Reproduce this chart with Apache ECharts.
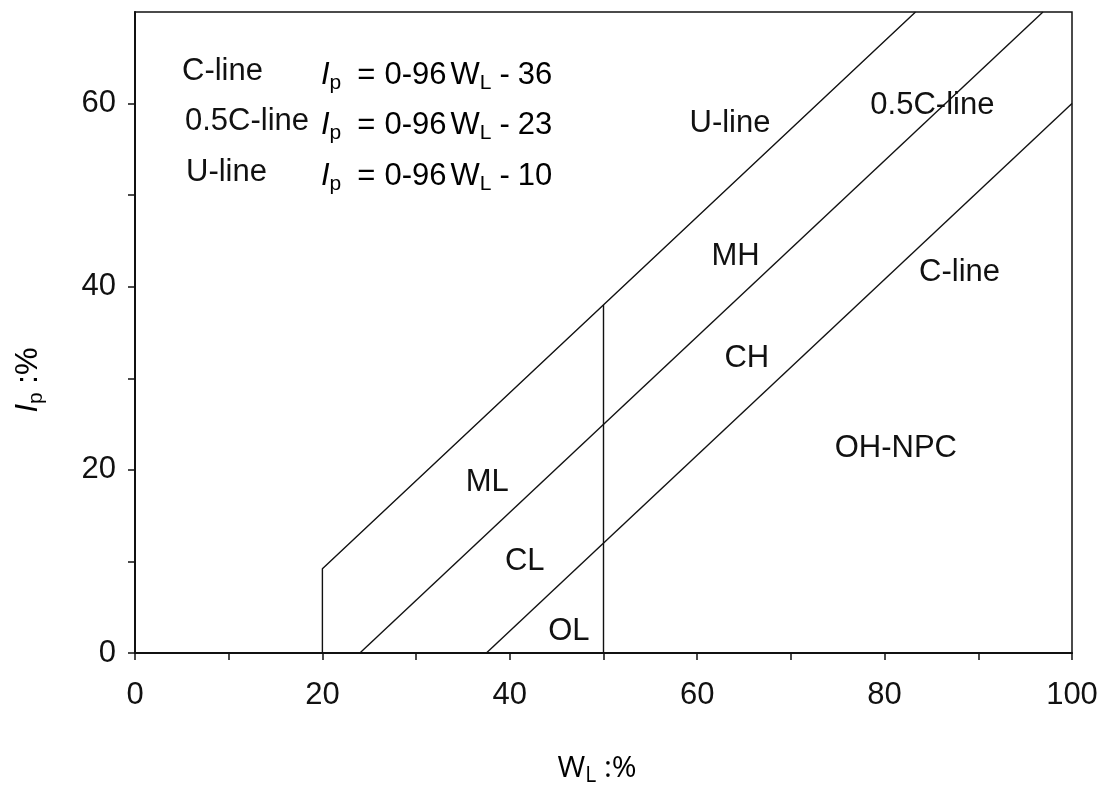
<!DOCTYPE html>
<html>
<head>
<meta charset="utf-8">
<title>Plasticity chart</title>
<script src="https://cdn.jsdelivr.net/npm/echarts@6/dist/echarts.min.js"></script>
<style>
  html, body { margin: 0; padding: 0; background: #fff; }
  #chart { width: 1105px; height: 792px; }
</style>
</head>
<body>
<div id="chart"></div>
<script>
// Boundary lines of the plasticity chart: [W_L %, I_p %]
const uLine = [[20, 0], [20, 9.2], [83.3, 70]];
const halfCLine = [[24, 0], [96.9, 70]];
const cLine = [[37.5, 0], [100, 60]];
const divider = [[50, 0], [50, 38]];

// Tick values
const xTicks = [0, 10, 20, 30, 40, 50, 60, 70, 80, 90, 100];
const xTickLabels = [0, 20, 40, 60, 80, 100];
const yTicks = [0, 10, 20, 30, 40, 50, 60];
const yTickLabels = [0, 20, 40, 60];

// Zone and line names, with the [W_L, I_p] point each is centred on
const zoneNames = ['U-line', '0.5C-line', 'MH', 'C-line', 'CH', 'OH-NPC', 'ML', 'CL', 'OL'];
const zoneAt = [[63.5, 57.8], [85.1, 59.8], [64.1, 43.3], [88.0, 41.6], [65.3, 32.2],
                [81.2, 22.3], [37.6, 18.6], [41.6, 10.0], [46.3, 2.3]];

// Equation key
const keyNames = ['C-line', '0.5C-line', 'U-line'];
const keyOffsets = ['36', '23', '10'];

const FONT = '"Liberation Sans", Arial, sans-serif';
const INK = '#111';
const FS = 31;

const chart = echarts.init(document.getElementById('chart'), null, { renderer: 'canvas' });

const lineStyle = { color: INK, width: 1.4 };
function boundary(name, data) {
  return {
    name, type: 'line', data, showSymbol: false, symbol: 'none',
    lineStyle, silent: true, animation: false, z: 3
  };
}

const sub = { fontFamily: FONT, fontSize: 21, color: INK, lineHeight: 32, padding: [17, 0, 0, 0] };
const main = { fontFamily: FONT, fontSize: FS, color: INK, lineHeight: 32 };
const ital = { fontFamily: FONT, fontSize: FS, color: INK, lineHeight: 32, fontStyle: 'italic' };

const keyRows = [73, 123, 174];
const keyNameX = [182, 185, 186];
const graphics = [];
keyNames.forEach((n, i) => {
  graphics.push({
    type: 'text', left: keyNameX[i], top: keyRows[i] - 17,
    style: { text: n, font: `${FS}px ${FONT}`, fill: INK }
  });
  graphics.push({
    type: 'text', left: 321, top: keyRows[i] - 17,
    style: {
      text: `{i|I}{s|p}{eq|=}{t|0-96}{w|W}{s|L}{m|-}{t|${keyOffsets[i]}}`,
      rich: {
        i: ital, s: sub, t: main,
        eq: Object.assign({}, main, { padding: [0, 9, 0, 16] }),
        w: Object.assign({}, main, { padding: [0, 0, 0, 4] }),
        m: Object.assign({}, main, { padding: [0, 8, 0, 8] })
      }
    }
  });
});

// y-axis title, rotated to read upwards
graphics.push({
  type: 'text', x: 28, y: 380, rotation: Math.PI / 2,
  style: {
    text: '{i|I}{s|p}{t| :%}',
    align: 'center', verticalAlign: 'middle',
    rich: { i: ital, s: sub, t: main }
  }
});
// x-axis title
graphics.push({
  type: 'text', x: 597, y: 768,
  style: {
    text: '{t|W}{s|L}{t| :%}',
    align: 'center', verticalAlign: 'middle',
    rich: {
      t: { fontFamily: '"Open Sans", sans-serif', fontSize: 30, color: INK, lineHeight: 32 },
      s: { fontFamily: '"Open Sans", sans-serif', fontSize: 21, color: INK, lineHeight: 32, padding: [17, 0, 0, 0] }
    }
  }
});

chart.setOption({
  animation: false,
  backgroundColor: '#fff',
  grid: {
    left: 135, right: 33, top: 12, bottom: 139,
    show: true, borderColor: INK, borderWidth: 1.5, backgroundColor: 'transparent'
  },
  xAxis: {
    type: 'value', min: 0, max: 100, interval: 10,
    axisLine: { show: true, lineStyle: { color: INK, width: 2 } },
    axisTick: { show: true, length: 7, inside: false, customValues: xTicks, lineStyle: { color: INK, width: 1.5 } },
    axisLabel: { customValues: xTickLabels, margin: 27, fontFamily: FONT, fontSize: FS, color: INK },
    splitLine: { show: false }
  },
  yAxis: {
    type: 'value', min: 0, max: 70, interval: 10,
    axisLine: { show: true, lineStyle: { color: INK, width: 2 } },
    axisTick: { show: true, length: 7, inside: false, customValues: yTicks, lineStyle: { color: INK, width: 1.5 } },
    axisLabel: { customValues: yTickLabels, margin: 19, fontFamily: FONT, fontSize: FS, color: INK },
    splitLine: { show: false }
  },
  series: [
    boundary('U-line', uLine),
    boundary('0.5C-line', halfCLine),
    boundary('C-line', cLine),
    boundary('W_L = 50', divider),
    {
      name: 'zones', type: 'scatter', symbolSize: 0, silent: true, z: 5,
      itemStyle: { opacity: 1 },
      data: zoneNames.map((n, i) => ({ name: n, value: zoneAt[i] })),
      label: {
        show: true, position: 'inside', formatter: '{b}',
        fontFamily: FONT, fontSize: FS, color: INK, opacity: 1
      }
    }
  ],
  graphic: graphics
});
</script>
</body>
</html>
